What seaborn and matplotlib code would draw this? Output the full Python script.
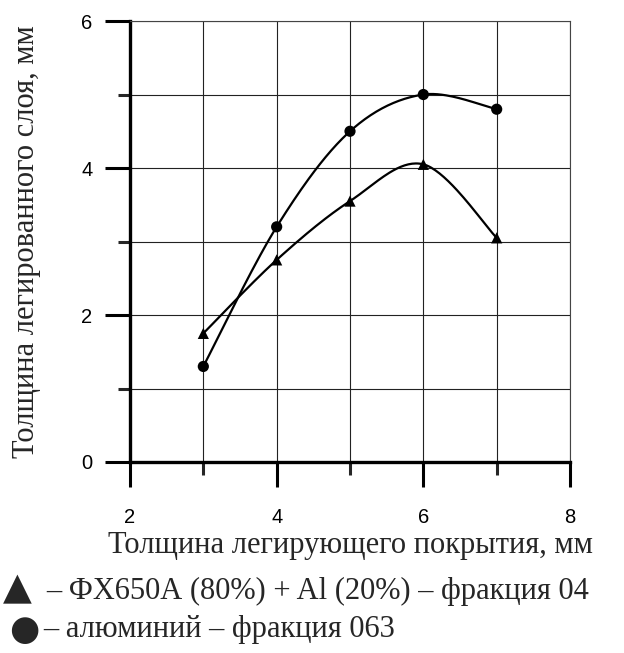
import numpy as np
import pandas as pd
import seaborn as sns
import matplotlib
matplotlib.use('Agg')
import matplotlib.pyplot as plt
from matplotlib.ticker import MultipleLocator

# данные
x_vals = [3, 4, 5, 6, 7]
tri_vals = [1.75, 2.75, 3.55, 4.05, 3.05]   # ФХ650А (80%) + Al (20%)
circ_vals = [1.3, 3.2, 4.5, 5.0, 4.8]       # алюминий
x_ticks = [2, 4, 6, 8]
y_ticks = [0, 2, 4, 6]
x_label = 'Толщина легирующего покрытия, мм'
y_label = 'Толщина легированного слоя, мм'
legend_tri = '– ФХ650А (80%) + Al (20%) – фракция 04'
legend_circ = '– алюминий – фракция 063'


def smooth(xs, ys, n=40):
    # сглаживание как в Excel (Catmull-Rom), только для отрисовки линии
    p = np.column_stack([xs, ys]).astype(float)
    ext = np.vstack([p[0], p, p[-1]])
    out = []
    t = np.linspace(0, 1, n)
    for i in range(len(p) - 1):
        p0, p1, p2, p3 = ext[i], ext[i + 1], ext[i + 2], ext[i + 3]
        m1 = (p2 - p0) / 2
        m2 = (p3 - p1) / 2
        h00 = 2 * t**3 - 3 * t**2 + 1
        h10 = t**3 - 2 * t**2 + t
        h01 = -2 * t**3 + 3 * t**2
        h11 = t**3 - t**2
        seg = (np.outer(h00, p1) + np.outer(h10, m1) + np.outer(h01, p2) + np.outer(h11, m2))
        out.append(seg if i == 0 else seg[1:])
    s = np.vstack(out)
    return s[:, 0], s[:, 1]


sns.set_style('white')
plt.rcParams['font.family'] = ['Liberation Sans', 'DejaVu Sans']

fig = plt.figure(figsize=(6.24, 6.53), dpi=100)
ax = fig.add_axes([0.2083, 0.2925, 0.7052, 0.6753])

pts = pd.DataFrame({'x': x_vals * 2, 'y': tri_vals + circ_vals,
                    'series': ['tri'] * 5 + ['circ'] * 5})

for vals in (tri_vals, circ_vals):
    sx, sy = smooth(x_vals, vals)
    sns.lineplot(x=sx, y=sy, sort=False, color='black', linewidth=1.6, ax=ax, estimator=None)

sns.scatterplot(data=pts, x='x', y='y', style='series', markers={'tri': '^', 'circ': 'o'},
                color='black', s=65, edgecolor='black', linewidth=0, legend=False, ax=ax, zorder=5)

ax.set_xlim(2, 8)
ax.set_ylim(0, 6)
ax.set_xticks(x_ticks)
ax.set_yticks(y_ticks)
ax.xaxis.set_minor_locator(MultipleLocator(1))
ax.yaxis.set_minor_locator(MultipleLocator(1))
ax.grid(True, which='both', color='#222222', linewidth=0.8)
ax.set_axisbelow(True)

for side in ('left', 'bottom'):
    ax.spines[side].set_linewidth(2.4)
    ax.spines[side].set_color('black')
for side in ('top', 'right'):
    ax.spines[side].set_linewidth(0.8)
    ax.spines[side].set_color('#444444')

ax.tick_params(which='major', direction='out', length=18, width=2.2, labelsize=14.5,
               left=True, bottom=True, colors='black')
ax.tick_params(which='minor', direction='out', length=9, width=2.2, left=True, bottom=True)
ax.tick_params(axis='y', which='major', pad=9)
ax.tick_params(axis='x', which='major', pad=15)

ax.set_xlabel(x_label, family='Liberation Serif', fontsize=22)
ax.xaxis.set_label_coords(0.5, -0.157)
ax.set_ylabel(y_label, family='Liberation Serif', fontsize=22)
ax.yaxis.set_label_coords(-0.203, 0.5)

# подписи условных обозначений
fig.text(3 / 624, 1 - 589 / 653, '▲', family='DejaVu Sans', fontsize=27, va='center', ha='left')
fig.text(46 / 624, 1 - 591 / 653, legend_tri, family='Liberation Serif', fontsize=22,
         va='center', ha='left')
fig.text(9 / 624, 1 - 630 / 653, '●', family='DejaVu Sans', fontsize=25, va='center', ha='left')
fig.text(43 / 624, 1 - 629 / 653, legend_circ, family='Liberation Serif', fontsize=22,
         va='center', ha='left')

fig.savefig('out.png', dpi=100)
